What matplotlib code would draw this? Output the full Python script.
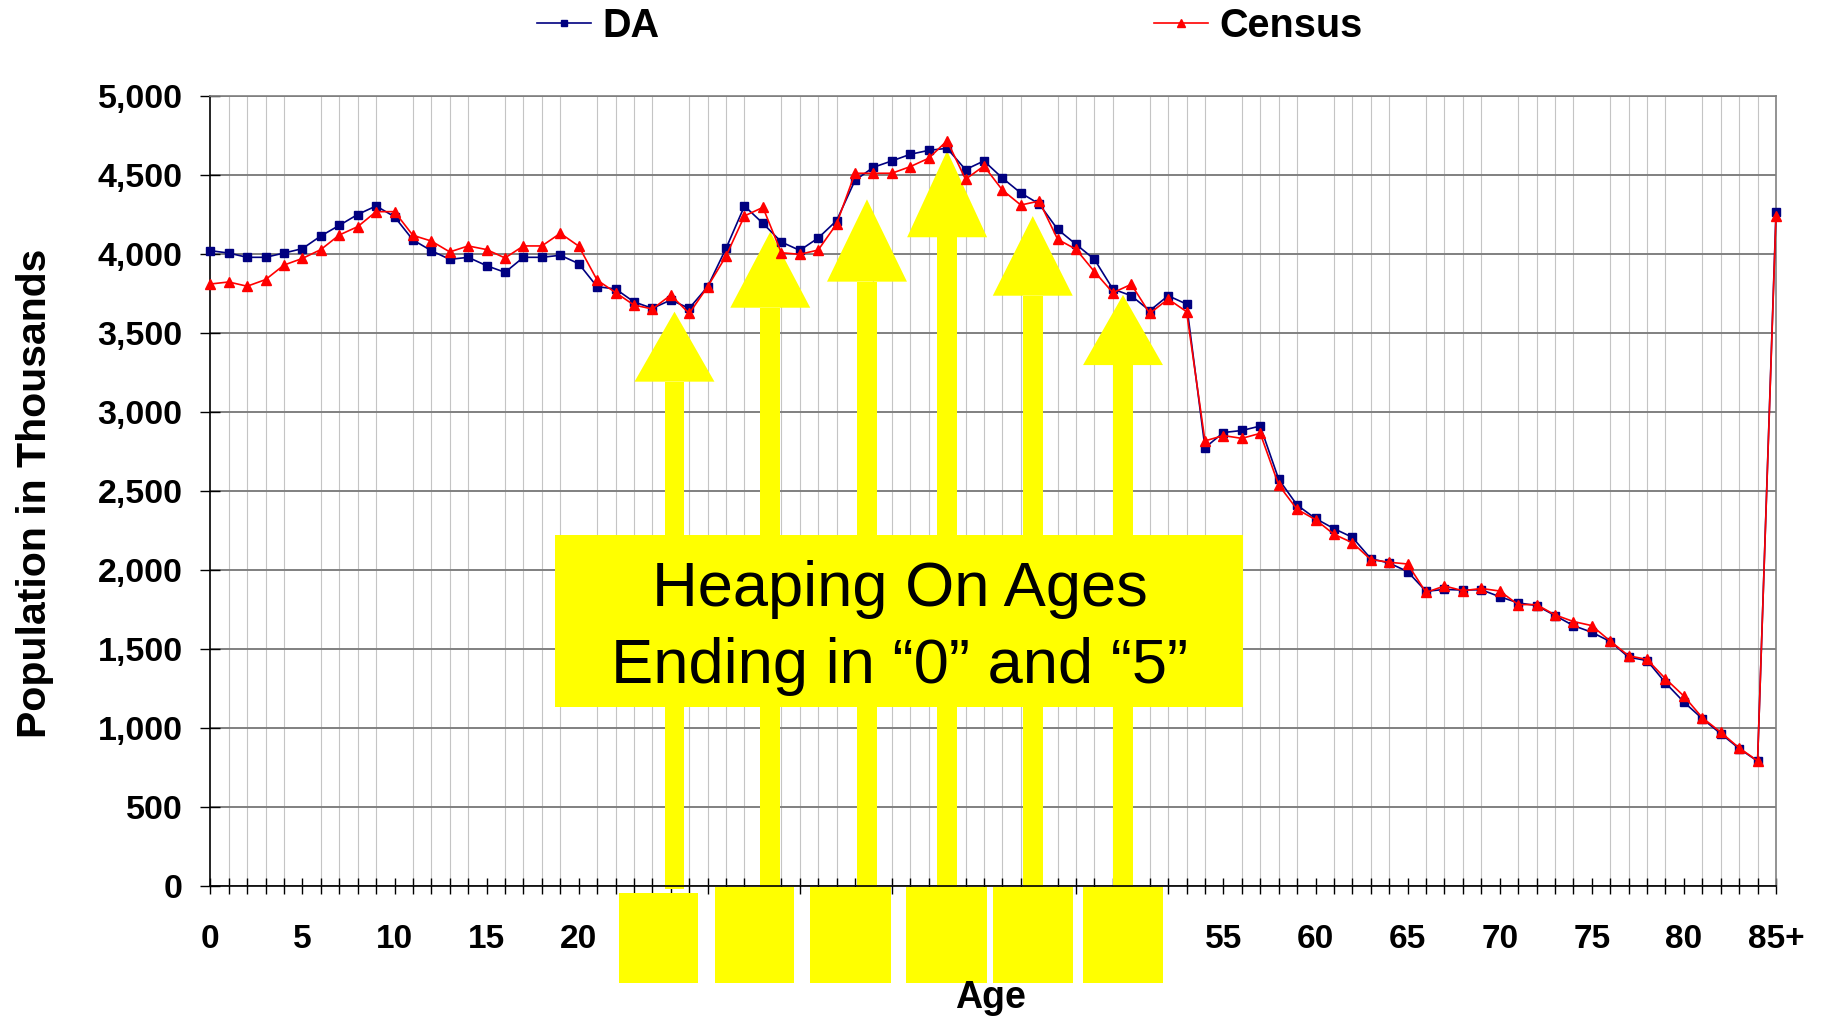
import matplotlib
matplotlib.use('Agg')
import matplotlib.pyplot as plt
from matplotlib.patches import Polygon, Rectangle
from matplotlib.lines import Line2D
from matplotlib.ticker import FuncFormatter, MultipleLocator

# ---------------- data ----------------
ages = list(range(86))  # 0..84 and 85+
tick_positions = [0, 5, 10, 15, 20, 25, 30, 35, 40, 45, 50, 55, 60, 65, 70, 75, 80, 85]
tick_labels = ['0', '5', '10', '15', '20', '25', '30', '35', '40', '45', '50',
               '55', '60', '65', '70', '75', '80', '85+']

da = [4021, 4006, 3979, 3979, 4006, 4034, 4114, 4181, 4250, 4304,
      4236, 4089, 4021, 3966, 3979, 3926, 3884, 3979, 3979, 3992,
      3939, 3793, 3779, 3697, 3656, 3709, 3656, 3793, 4036, 4304,
      4194, 4076, 4023, 4101, 4211, 4466, 4549, 4589, 4631, 4656,
      4669, 4534, 4589, 4481, 4386, 4317, 4156, 4061, 3966, 3778,
      3736, 3641, 3736, 3683, 2774, 2870, 2883, 2911, 2575, 2411,
      2326, 2262, 2207, 2072, 2044, 1990, 1865, 1877, 1873, 1875,
      1831, 1792, 1775, 1712, 1648, 1606, 1547, 1448, 1427, 1286,
      1164, 1059, 964, 870, 790, 4264]

census = [3810, 3823, 3796, 3838, 3930, 3972, 4028, 4120, 4173, 4268,
          4268, 4118, 4082, 4013, 4051, 4028, 3975, 4051, 4051, 4131,
          4050, 3835, 3756, 3677, 3652, 3740, 3624, 3793, 3987, 4241,
          4295, 4008, 3998, 4025, 4190, 4511, 4511, 4511, 4553, 4606,
          4717, 4473, 4557, 4405, 4310, 4335, 4093, 4030, 3888, 3755,
          3808, 3624, 3715, 3635, 2817, 2851, 2833, 2865, 2538, 2384,
          2319, 2226, 2173, 2066, 2049, 2038, 1858, 1899, 1869, 1883,
          1867, 1781, 1781, 1716, 1674, 1648, 1550, 1457, 1434, 1312,
          1202, 1065, 973, 874, 792, 4242]

series_names = ['DA', 'Census']

# annotation (yellow arrows / boxes)
arrow_x = [25.2, 30.4, 35.65, 40.0, 44.65, 49.55]
arrow_tip = [3635, 4141, 4346, 4654, 4240, 3741]
arrow_base = [3192, 3660, 3825, 4106, 3736, 3297]
cover_left = [22.19, 27.40, 32.55, 37.77, 42.49, 47.38]
cover_right = [26.48, 31.68, 36.95, 42.17, 46.84, 51.72]
cover_top = [-44, -6, -6, -6, -6, -6]
cover_bottom = -614
note_lines = ['Heaping On Ages', 'Ending in \u201c0\u201d and \u201c5\u201d']

# ---------------- figure ----------------
W, H = 1822, 1016
fig = plt.figure(figsize=(W / 100, H / 100), dpi=100)
fig.patch.set_facecolor('white')
FONT = 'Liberation Sans'

ax = fig.add_axes([210.3 / W, 1 - 886 / H, (1776 - 210.3) / W, (886 - 96) / H])
ax.set_xlim(0, 85)
ax.set_ylim(0, 5000)

# grid
ax.xaxis.set_minor_locator(MultipleLocator(1))
ax.yaxis.set_major_locator(MultipleLocator(500))
ax.grid(which='minor', axis='x', color='#c4c4c4', lw=0.8, zorder=0)
ax.grid(which='major', axis='y', color='#808080', lw=1.4, zorder=0)
ax.set_axisbelow(True)

for s in ['left', 'bottom']:
    ax.spines[s].set_color('black')
    ax.spines[s].set_linewidth(1.2)
for s in ['top', 'right']:
    ax.spines[s].set_color('#808080')
    ax.spines[s].set_linewidth(1.2)

ax.set_xticks(tick_positions)
ax.set_xticklabels(tick_labels)
ax.tick_params(axis='x', which='both', direction='inout', length=12, width=1,
               color='black', pad=21, labelsize=24)
ax.tick_params(axis='y', which='major', direction='inout', length=14, width=1,
               color='black', pad=13, labelsize=24.5)
ax.yaxis.set_major_formatter(FuncFormatter(lambda v, p: f'{int(v):,}'))
for lab in ax.get_xticklabels() + ax.get_yticklabels():
    lab.set_fontfamily(FONT)
    lab.set_fontweight('bold')

# yellow arrows (behind the data lines)
yellow = '#FFFF00'
hw = 2.17   # head half width (age units)
sw = 0.54   # shaft half width
for x, tip, base in zip(arrow_x, arrow_tip, arrow_base):
    head = Polygon([(x - hw, base), (x + hw, base), (x, tip)], closed=True,
                   facecolor=yellow, edgecolor='none', zorder=1.5, clip_on=False)
    ax.add_patch(head)
    shaft = Rectangle((x - sw, -20), 2 * sw, base + 20, facecolor=yellow,
                      edgecolor='none', zorder=1.5, clip_on=False)
    ax.add_patch(shaft)

# data lines
l1, = ax.plot(ages, da, color='#000080', lw=1.2, marker='s', ms=5.5,
              markerfacecolor='#000080', markeredgecolor='#000080', zorder=3,
              label=series_names[0], clip_on=False)
l2, = ax.plot(ages, census, color='#FF0000', lw=1.2, marker='^', ms=7,
              markerfacecolor='#FF0000', markeredgecolor='#FF0000', zorder=3.5,
              label=series_names[1], clip_on=False)

# covering boxes at the bottom (over tick labels)
for lft, rgt, top in zip(cover_left, cover_right, cover_top):
    ax.add_patch(Rectangle((lft, cover_bottom), rgt - lft, top - cover_bottom,
                           facecolor=yellow, edgecolor='none', zorder=10,
                           clip_on=False))

# note box
ax.add_patch(Rectangle((18.71, 1133), 56.04 - 18.71, 2221 - 1133,
                       facecolor=yellow, edgecolor='none', zorder=8))
ax.text(37.44, 1772, note_lines[0], ha='center', va='baseline', fontsize=45.5,
        family=FONT, color='black', zorder=9)
ax.text(37.44, 1283, note_lines[1], ha='center', va='baseline', fontsize=45.5,
        family=FONT, color='black', zorder=9)

# axis titles
fig.text(35 / W, 1 - 493 / H, 'Population in Thousands', rotation=90,
         ha='center', va='center', fontsize=29.5, fontweight='bold', family=FONT)
fig.text(991 / W, 1 - 1008 / H, 'Age', ha='center', va='baseline',
         fontsize=27, fontweight='bold', family=FONT)

# legend
leg = fig.legend(handles=[l1, l2], loc='center', bbox_to_anchor=(950 / W, 1 - 26 / H),
                 ncol=2, frameon=False, columnspacing=12.5, handlelength=1.35,
                 handletextpad=0.3, markerscale=0.8,
                 prop={'family': FONT, 'weight': 'bold', 'size': 28.5})

fig.savefig('out.png', dpi=100, facecolor='white')
